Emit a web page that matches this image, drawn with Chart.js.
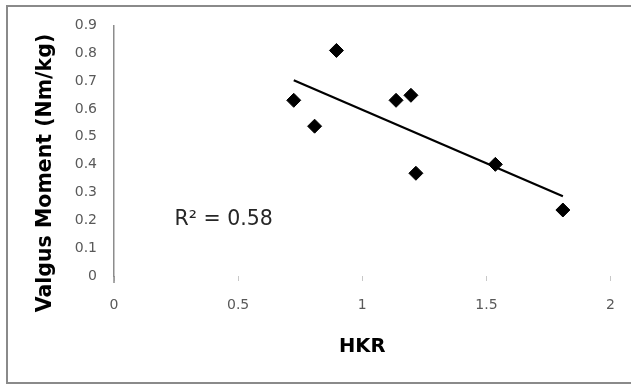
<!DOCTYPE html>
<html>
<head>
<meta charset="utf-8">
<script src="https://cdn.jsdelivr.net/npm/chart.js@4"></script>
<style>
  html, body { margin: 0; padding: 0; background: #ffffff; }
  canvas { display: block; }
</style>
</head>
<body>
<canvas id="c" width="631" height="387"></canvas>
<script>
// Data
const hkr    = [0.724, 0.808, 0.896, 1.136, 1.196, 1.216, 1.536, 1.808];
const valgus = [0.631, 0.538, 0.810, 0.631, 0.649, 0.369, 0.401, 0.237];
// Linear trendline endpoints
const trendX = [0.724, 1.808];
const trendY = [0.703, 0.286];
const xTicks = [0, 0.5, 1, 1.5, 2];
const yTicks = [0, 0.1, 0.2, 0.3, 0.4, 0.5, 0.6, 0.7, 0.8, 0.9];
const xTitle = 'HKR';
const yTitle = 'Valgus Moment (Nm/kg)';
const r2Label = 'R\u00B2 = 0.58';

const pts = hkr.map((x, i) => ({x: x, y: valgus[i]}));
const trend = trendX.map((x, i) => ({x: x, y: trendY[i]}));

const decor = {
  id: 'decor',
  beforeDraw(chart) {
    const ctx = chart.ctx;
    ctx.save();
    ctx.fillStyle = '#ffffff';
    ctx.fillRect(0, 0, chart.width, chart.height);
    ctx.strokeStyle = '#8a8a8a';
    ctx.lineWidth = 2;
    ctx.strokeRect(7, 6, chart.width + 20, chart.height - 10);
    ctx.restore();
  },
  afterDraw(chart) {
    const ctx = chart.ctx;
    const xs = chart.scales.x, ys = chart.scales.y;
    const a = chart.chartArea;
    ctx.save();
    // small extension of the value axis line below zero
    ctx.strokeStyle = '#8c8c8c';
    ctx.lineWidth = 1.5;
    ctx.beginPath();
    ctx.moveTo(a.left, a.bottom);
    ctx.lineTo(a.left, a.bottom + 7);
    ctx.stroke();
    ctx.restore();
    ctx.save();
    // y axis title
    ctx.font = 'bold 20.5px "DejaVu Sans"';
    ctx.fillStyle = '#000000';
    ctx.textAlign = 'center';
    ctx.textBaseline = 'middle';
    ctx.translate(46, 173);
    ctx.rotate(-Math.PI / 2);
    ctx.fillText(yTitle, 0, 0);
    ctx.restore();
    // R² annotation
    ctx.save();
    ctx.font = '20.5px "DejaVu Sans"';
    ctx.fillStyle = '#262626';
    ctx.textAlign = 'left';
    ctx.textBaseline = 'middle';
    ctx.fillText(r2Label, xs.getPixelForValue(0.244), ys.getPixelForValue(0.204));
    ctx.restore();
  }
};

new Chart(document.getElementById('c'), {
  type: 'scatter',
  data: {
    datasets: [
      {
        data: trend,
        showLine: true,
        borderColor: '#000000',
        borderWidth: 2.2,
        pointRadius: 0,
        fill: false
      },
      {
        data: pts,
        showLine: false,
        pointStyle: 'rectRot',
        pointRadius: 7,
        pointBorderWidth: 1,
        pointBackgroundColor: '#000000',
        pointBorderColor: '#000000'
      }
    ]
  },
  options: {
    responsive: false,
    animation: false,
    devicePixelRatio: 1,
    layout: { padding: { left: 0, top: 25, right: 15, bottom: 0 } },
    plugins: { legend: { display: false }, tooltip: { enabled: false } },
    scales: {
      x: {
        type: 'linear',
        min: 0, max: 2,
        afterBuildTicks(s) { s.ticks = xTicks.map(v => ({value: v})); },
        afterFit(s) { s.height = 111; },
        grid: { drawOnChartArea: false, drawTicks: true, tickLength: 5, color: '#c8c8c8', lineWidth: 1 },
        border: { display: false },
        ticks: {
          padding: 16,
          color: '#595959',
          font: { family: 'DejaVu Sans', size: 14 },
          callback: v => String(v)
        },
        title: {
          display: true,
          text: xTitle,
          color: '#000000',
          font: { family: 'DejaVu Sans', size: 19.5, weight: 'bold' },
          padding: { top: 0, bottom: 28 }
        }
      },
      y: {
        type: 'linear',
        min: 0, max: 0.9,
        afterBuildTicks(s) { s.ticks = yTicks.map(v => ({value: v})); },
        afterFit(s) { s.width = 114; },
        grid: { drawOnChartArea: false, drawTicks: false },
        border: { display: true, color: '#8c8c8c', width: 1.5 },
        ticks: {
          padding: 17,
          color: '#595959',
          font: { family: 'DejaVu Sans', size: 14 },
          callback: v => String(Number(v.toFixed(1)))
        }
      }
    }
  },
  plugins: [decor]
});
</script>
</body>
</html>
